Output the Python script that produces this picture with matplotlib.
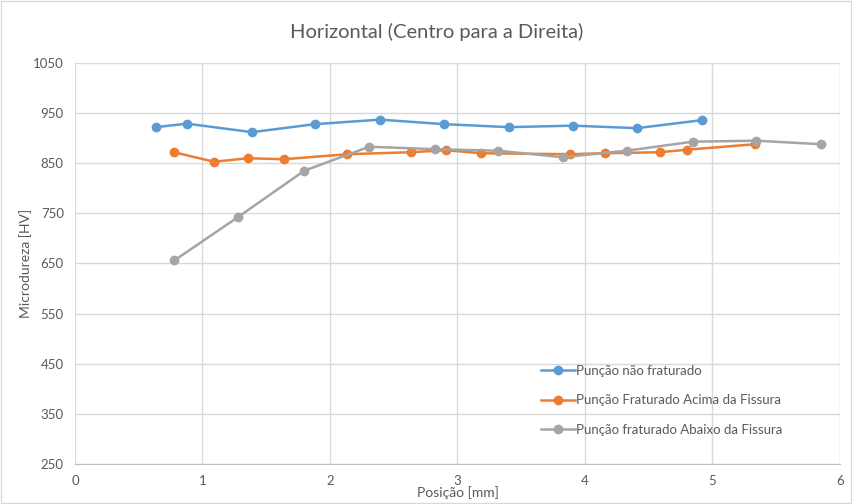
import matplotlib
matplotlib.use('Agg')
import matplotlib.pyplot as plt
from matplotlib.patches import Rectangle

plt.rcParams['font.family'] = ['Lato', 'DejaVu Sans']

# Punção não fraturado
x_nf = [0.635, 0.878, 1.388, 1.882, 2.392, 2.894, 3.404, 3.906, 4.408, 4.918]
y_nf = [922, 929, 912, 928, 937, 928, 922, 925, 920, 936]

# Punção Fraturado Acima da Fissura
x_ac = [0.776, 1.090, 1.357, 1.639, 2.133, 2.635, 2.910, 3.184, 3.882, 4.157, 4.588, 4.800, 5.333]
y_ac = [872, 853, 860, 858, 868, 872, 876, 870, 868, 870, 872, 877, 888]

# Punção fraturado Abaixo da Fissura
x_ab = [0.779, 1.281, 1.798, 2.308, 2.824, 3.320, 3.825, 4.327, 4.845, 5.341, 5.849]
y_ab = [656, 743, 835, 883, 878, 875, 862, 875, 893, 895, 888]

labels = ['Punção não fraturado', 'Punção Fraturado Acima da Fissura',
          'Punção fraturado Abaixo da Fissura']
colors = ['#5B9BD5', '#ED7D31', '#A5A5A5']
txt = '#595959'

fig = plt.figure(figsize=(8.53, 5.04), dpi=100)
ax = fig.add_axes([0.0879, 0.0794, 0.8968, 0.7956])

for xs, ys, lab, c in zip([x_nf, x_ac, x_ab], [y_nf, y_ac, y_ab], labels, colors):
    ax.plot(xs, ys, color=c, lw=1.8, marker='o', ms=6, label=lab)

ax.set_xlim(0, 6)
ax.set_ylim(250, 1050)
ax.set_xticks(range(0, 7))
ax.set_yticks(range(250, 1051, 100))
ax.grid(True, color='#d9d9d9', lw=1)
ax.set_axisbelow(True)
for s in ['top', 'right', 'left']:
    ax.spines[s].set_visible(False)
ax.spines['bottom'].set_color('#bfbfbf')
ax.tick_params(length=0, colors=txt, labelsize=9.5, pad=8)

fig.text(0.512, 0.936, 'Horizontal (Centro para a Direita)', color=txt, fontsize=14.5,
         ha='center', va='center')
ax.set_xlabel('Posição [mm]', color=txt, fontsize=10, labelpad=-1)
ax.set_ylabel('Microdureza [HV]', color=txt, fontsize=10, labelpad=1)

leg = ax.legend(loc='upper left', bbox_to_anchor=(0.609, 0.247), frameon=False,
                borderpad=0, borderaxespad=0, fontsize=9.5, labelspacing=1.32,
                handlelength=2.6, handletextpad=0.1)
for t in leg.get_texts():
    t.set_color(txt)

fig.patches.append(Rectangle((0.001, 0.001), 0.997, 0.997, transform=fig.transFigure,
                             fill=False, edgecolor='#d9d9d9', lw=1))

fig.savefig('out.png', dpi=100)
